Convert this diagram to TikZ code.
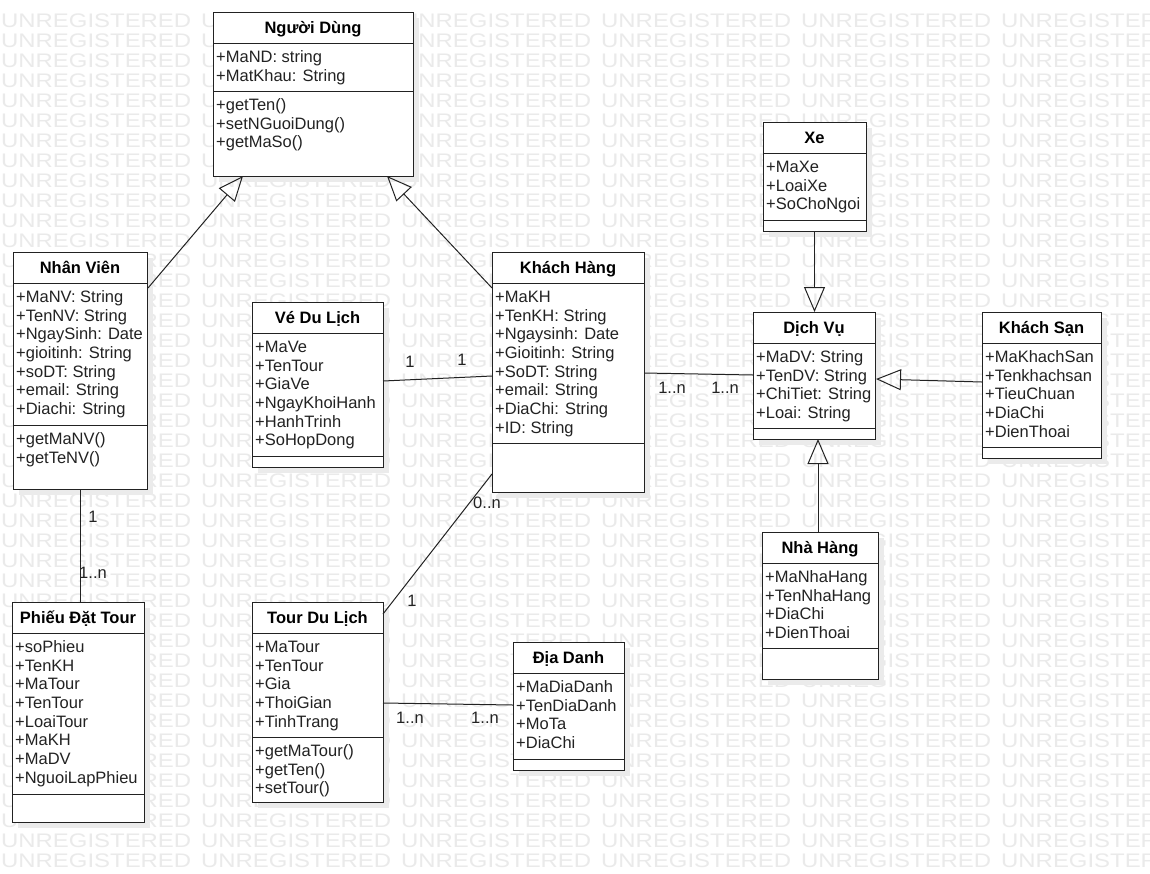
\documentclass[tikz,border=0pt]{standalone}
\usepackage{fontspec}
\setmainfont{Liberation Sans}
\usetikzlibrary{arrows.meta,calc}
\definecolor{lc}{HTML}{222222}
\definecolor{wm}{HTML}{EAEAEA}
\definecolor{shd}{HTML}{EBEBEB}
\tikzset{
  classbox/.style={draw=lc, fill=white, line width=1pt, inner sep=0, outer sep=0, anchor=north west},
  ctitle/.style={font=\fontsize{16.5}{18.7}\selectfont\bfseries, text=black, anchor=base, inner sep=0},
  cline/.style={anchor=base west, inner sep=0, text=lc},
  gen/.style={-{Triangle[open,length=25pt,width=21pt]}, line width=1pt, draw=lc},
  assoc/.style={line width=1pt, draw=lc},
  lbl/.style={inner sep=0, text=lc},
  wmk/.style={anchor=base west, inner sep=0, text=wm, font=\fontsize{19.6}{20}\selectfont}
}
% #1 name, #2 L, #3 T, #4 R, #5 B, #6 d1, #7 d2, #8 title, #9 attributes
\newcommand\umlbox[9]{%
  \fill[shd] (#2+6,#3+6) rectangle (#4+6,#5+6);
  \node[classbox, minimum width={#4-#2}, minimum height={#5-#3}] (#1) at (#2,#3) {};
  \draw[lc, line width=1pt] (#2,#6) -- (#4,#6) (#2,#7) -- (#4,#7);
  \node[ctitle] (#1-t) at ({(#2+#4)/2},#3+21.5) {#8};
  \foreach \a [count=\i] in {#9} {\node[cline] (#1-a\i) at (#2+3,#6+\i*18.7+0.6) {\a};}
}
% #1 name, #2 L, #3 d2, #4 methods
\newcommand\umlops[4]{%
  \foreach \a [count=\i] in {#4} {\node[cline] (#1-m\i) at (#2+3,#3+\i*18.7+0.6) {\a};}
}
\begin{document}
\begin{tikzpicture}[x=1pt, y=-1pt, font=\fontsize{16.5}{18.7}\selectfont]
\useasboundingbox (0,0) rectangle (1150,873);
\fill[white] (0,0) rectangle (1150,873);
\begin{scope}
\clip (0,0) rectangle (1150,873);
\foreach \r in {1,...,43} {
  \foreach \c in {0,...,5} {
    \node[wmk] (wm-\r-\c) at (\c*200+1, \r*20+7) {\scalebox{1.22}[1]{UNREGISTERED}};
  }
}
\end{scope}

\umlbox{nd}{213}{12}{413}{176}{43}{91}{Người Dùng}{+MaND: string, +MatKhau: String}
\umlops{nd}{213}{91}{+getTen(), +setNGuoiDung(), +getMaSo()}

\umlbox{nv}{13}{252}{147}{489}{283}{425}{Nhân Viên}{+MaNV: String, +TenNV: String, +NgaySinh: Date, +gioitinh: String, +soDT: String, +email: String, +Diachi: String}
\umlops{nv}{13}{425}{+getMaNV(), +getTeNV()}

\umlbox{ve}{252}{302}{383}{467}{333}{456}{Vé Du Lịch}{+MaVe, +TenTour, +GiaVe, +NgayKhoiHanh, +HanhTrinh, +SoHopDong}

\umlbox{kh}{492}{252}{644}{492}{283}{443}{Khách Hàng}{+MaKH, +TenKH: String, +Ngaysinh: Date, +Gioitinh: String, +SoDT: String, +email: String, +DiaChi: String, +ID: String}

\umlbox{xe}{763}{122}{866}{231}{153}{220}{Xe}{+MaXe, +LoaiXe, +SoChoNgoi}

\umlbox{dv}{753}{312}{875}{439}{343}{428}{Dịch Vụ}{+MaDV: String, +TenDV: String, +ChiTiet: String, +Loai: String}

\umlbox{ks}{982}{312}{1101}{458}{343}{447}{Khách Sạn}{+MaKhachSan, +Tenkhachsan, +TieuChuan, +DiaChi, +DienThoai}

\umlbox{nh}{762}{532}{878}{679}{563}{648}{Nhà Hàng}{+MaNhaHang, +TenNhaHang, +DiaChi, +DienThoai}

\umlbox{ph}{12}{602}{144}{822}{633}{794}{Phiếu Đặt Tour}{+soPhieu, +TenKH, +MaTour, +TenTour, +LoaiTour, +MaKH, +MaDV, +NguoiLapPhieu}

\umlbox{to}{252}{602}{383}{802}{633}{737}{Tour Du Lịch}{+MaTour, +TenTour, +Gia, +ThoiGian, +TinhTrang}
\umlops{to}{252}{737}{+getMaTour(), +getTen(), +setTour()}

\umlbox{dd}{513}{642}{624}{770}{673}{759}{Địa Danh}{+MaDiaDanh, +TenDiaDanh, +MoTa, +DiaChi}

% generalizations
\draw[gen] ($(nv.north east)+(1,36)$) -- ($(nd.south west)+(30,0)$);
\draw[gen] ($(kh.north west)+(0,36)$) -- ($(nd.south east)+(-26,0)$);
\draw[gen] (xe.south) -- (xe.south |- dv.north);
\draw[gen] ($(ks.north west)+(0,70)$) -- ($(dv.north east)+(1,67)$);
\coordinate (nhtop) at ($(nh.north)+(-2,0)$);
\draw[gen] (nhtop) -- (nhtop |- dv.south);

% associations
\draw[assoc] ($(ve.north east)+(0,79)$) -- ($(kh.north west)+(0,124)$);
\draw[assoc] ($(kh.north east)+(0,121)$) -- ($(dv.north west)+(0,63)$);
\draw[assoc] (nv.south) -- (nv.south |- ph.north);
\draw[assoc] ($(kh.south west)+(0,-18)$) -- ($(to.north east)+(0,12)$);
\draw[assoc] ($(to.north east)+(0,101)$) -- ($(dd.north west)+(0,63)$);

% multiplicities
\node[lbl] (m1) at (410,362) {1};
\node[lbl] (m2) at (462,360) {1};
\node[lbl] (m3) at (672,388) {1..n};
\node[lbl] (m4) at (725,388) {1..n};
\node[lbl] (m5) at (93,517) {1};
\node[lbl] (m6) at (93,573) {1..n};
\node[lbl] (m7) at (487,503) {0..n};
\node[lbl] (m8) at (412,601) {1};
\node[lbl] (m9) at (410,718) {1..n};
\node[lbl] (m10) at (485,718) {1..n};
\end{tikzpicture}
\end{document}
